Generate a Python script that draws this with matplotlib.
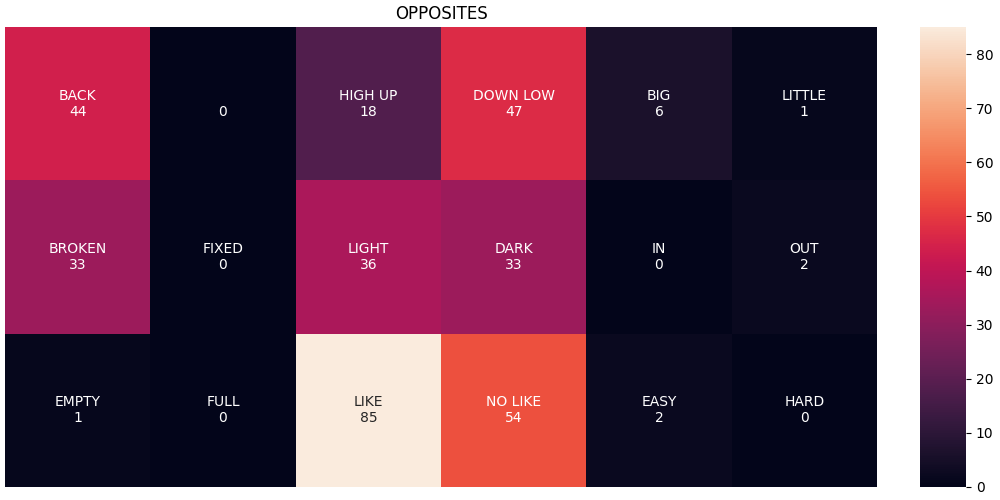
import numpy as np
import matplotlib
matplotlib.use("Agg")
import matplotlib.pyplot as plt
import seaborn as sns

# Pairs of opposite words and how often each one came up
words = [
    ["BACK", "", "HIGH UP", "DOWN LOW", "BIG", "LITTLE"],
    ["BROKEN", "FIXED", "LIGHT", "DARK", "IN", "OUT"],
    ["EMPTY", "FULL", "LIKE", "NO LIKE", "EASY", "HARD"],
]
counts = [
    [44, 0, 18, 47, 6, 1],
    [33, 0, 36, 33, 0, 2],
    [1, 0, 85, 54, 2, 0],
]

values = np.array(counts)
labels = np.array([[f"{w}\n{c}" for w, c in zip(wr, cr)]
                   for wr, cr in zip(words, counts)])

fig = plt.figure(figsize=(10, 5), dpi=100)
ax = fig.add_axes([0.005, 0.026, 0.872, 0.92])
cax = fig.add_axes([0.92, 0.026, 0.046, 0.92])

sns.heatmap(values, annot=labels, fmt="", cmap="rocket", vmin=0, vmax=85,
            ax=ax, cbar_ax=cax, xticklabels=False, yticklabels=False)
ax.set_title("OPPOSITES", fontsize=12)
cax.set_yticks(range(0, 90, 10))

fig.savefig("out.png")
